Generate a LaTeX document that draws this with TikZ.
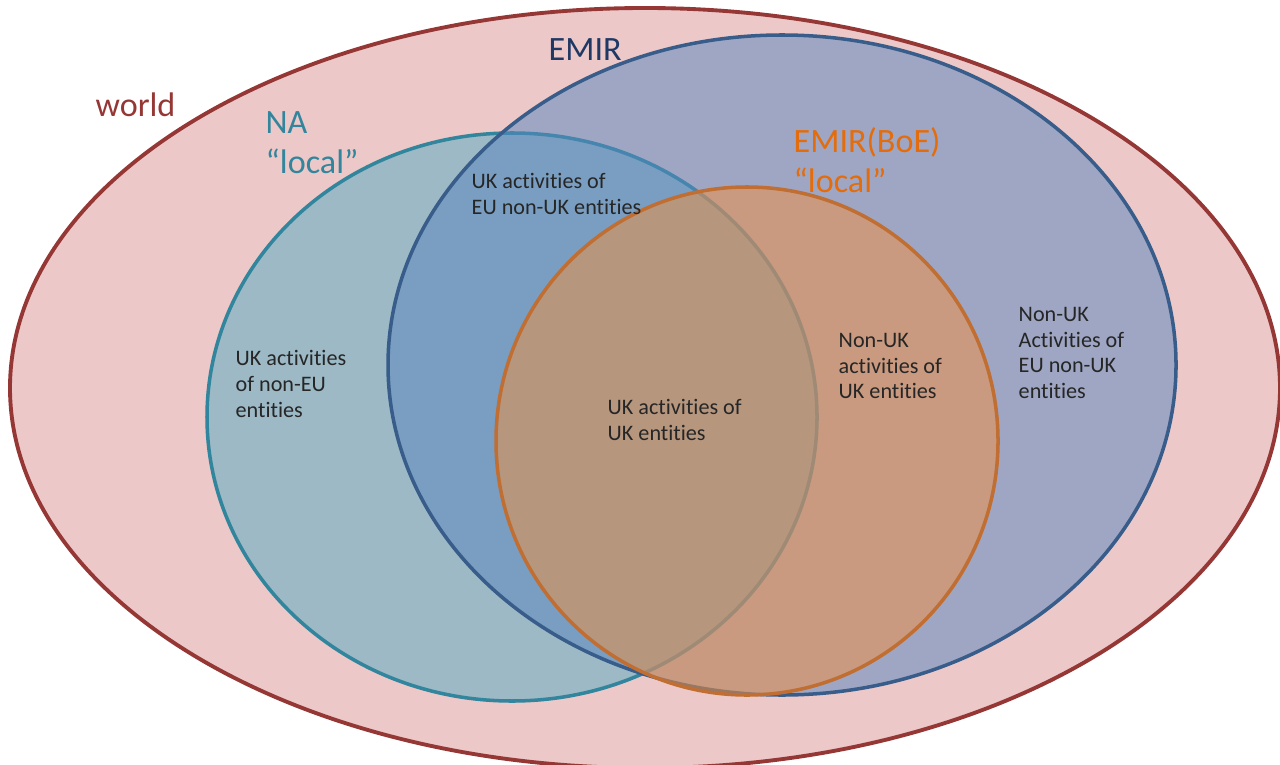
\documentclass[tikz,border=0pt]{standalone}
\usepackage{fontspec}
\setmainfont{Carlito}[RawFeature={-liga;-clig;-calt;-dlig}]
\definecolor{worldline}{RGB}{149,55,53}
\definecolor{worldfill}{RGB}{236,200,200}
\definecolor{naline}{RGB}{49,133,156}
\definecolor{nafill}{RGB}{84,173,196}
\definecolor{emirline}{RGB}{56,93,138}
\definecolor{emirfill}{RGB}{90,135,192}
\definecolor{emirtext}{RGB}{31,56,100}
\definecolor{boeline}{RGB}{192,110,50}
\definecolor{boefill}{RGB}{241,143,65}
\definecolor{boetext}{RGB}{228,108,10}
\tikzset{
  setname/.style={font=\fontsize{9.7}{11.4}\selectfont, align=left, anchor=west, inner sep=0pt},
  region/.style={font=\fontsize{6.3}{7.3}\selectfont, align=left, anchor=west, inner sep=0pt, text=black!85},
  venn/.style={line width=1pt, fill opacity=.52}
}

\begin{document}
\begin{tikzpicture}[x=0.01cm, y=-0.01cm]
	\clip (0,0) rectangle (1280,764);
	% the sets
	\draw [line width=1.1pt, draw=worldline, fill=worldfill] (645,388) ellipse [x radius=635, y radius=380];
	\draw [venn, draw=naline, fill=nafill] (512,417) ellipse [x radius=305, y radius=284];
	\draw [venn, draw=emirline, fill=emirfill] (782,365) ellipse [x radius=394, y radius=330];
	\draw [venn, draw=boeline, fill=boefill] (747,441) ellipse [x radius=251, y radius=254];
	% set names
	\node [setname, text=worldline] (world) at (95,105) {world};
	\node [setname, text=emirtext] (emir) at (548,50) {EMIR};
	\node [setname, text=naline] (na) at (265,143) {NA\\“local”};
	\node [setname, text=boetext] (boe) at (793,160) {EMIR(BoE)\\“local”};
	% regions
	\node [region] (ukeu) at (471,194) {UK activities of\\EU non-UK entities};
	\node [region] (uknoneu) at (235,384) {UK activities\\of non-EU\\entities};
	\node [region] (ukuk) at (607,420) {UK activities of\\UK entities};
	\node [region] (nonukuk) at (838,366) {Non-UK\\activities of\\UK entities};
	\node [region] (nonukeu) at (1018,353) {Non-UK\\Activities of\\EU non-UK\\entities};
\end{tikzpicture}
\end{document}
